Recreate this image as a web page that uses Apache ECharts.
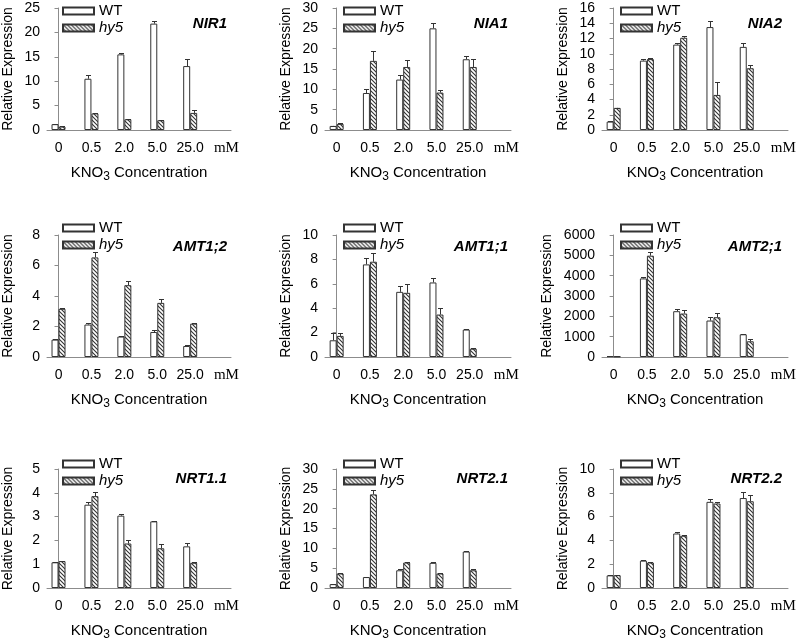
<!DOCTYPE html>
<html><head><meta charset="utf-8">
<script src="https://cdn.jsdelivr.net/npm/echarts@6/dist/echarts.min.js"></script>
<style>html,body{margin:0;padding:0;background:#fff}#c{width:800px;height:642px}</style>
</head><body><div id="c"></div>
<script>
// ---------- data ----------
const concentrations = ['0', '0.5', '2.0', '5.0', '25.0'];
const unitLabel = 'mM';
const seriesNames = ['WT', 'hy5'];
const genes = ['NIR1', 'NIA1', 'NIA2', 'AMT1;2', 'AMT1;1', 'AMT2;1', 'NRT1.1', 'NRT2.1', 'NRT2.2'];

const nir1WT = [1.2, 10.5, 15.5, 21.8, 13.1];
const nir1WTErr = [0.1, 0.7, 0.2, 0.6, 1.5];
const nir1Hy5 = [0.7, 3.4, 2.2, 2.0, 3.5];
const nir1Hy5Err = [0.05, 0.1, 0.1, 0.1, 0.6];

const nia1WT = [1.0, 9.1, 12.4, 25.0, 17.4];
const nia1WTErr = [0.1, 1.0, 1.1, 1.4, 0.9];
const nia1Hy5 = [1.5, 17.0, 15.5, 9.2, 15.5];
const nia1Hy5Err = [0.1, 2.5, 1.6, 0.7, 2.0];

const nia2WT = [1.1, 9.1, 11.2, 13.5, 10.9];
const nia2WTErr = [0.05, 0.2, 0.2, 0.8, 0.45];
const nia2Hy5 = [2.9, 9.3, 12.1, 4.6, 8.1];
const nia2Hy5Err = [0.05, 0.2, 0.25, 1.65, 0.45];

const amt12WT = [1.14, 2.13, 1.34, 1.64, 0.72];
const amt12WTErr = [0.05, 0.08, 0.05, 0.15, 0.08];
const amt12Hy5 = [3.16, 6.53, 4.71, 3.55, 2.19];
const amt12Hy5Err = [0.08, 0.33, 0.25, 0.24, 0.03];

const amt11WT = [1.37, 7.59, 5.34, 6.11, 2.25];
const amt11WTErr = [0.6, 0.5, 0.5, 0.4, 0.06];
const amt11Hy5 = [1.73, 7.81, 5.26, 3.48, 0.68];
const amt11Hy5Err = [0.2, 0.74, 0.7, 0.55, 0.03];

const amt21WT = [40, 3865, 2253, 1793, 1118];
const amt21WTErr = [10, 50, 100, 150, 30];
const amt21Hy5 = [25, 4984, 2138, 1957, 773];
const amt21Hy5Err = [5, 165, 165, 230, 130];

const nrt11WT = [1.08, 3.50, 3.04, 2.80, 1.75];
const nrt11WTErr = [0.02, 0.1, 0.08, 0.03, 0.13];
const nrt11Hy5 = [1.13, 3.86, 1.87, 1.67, 1.06];
const nrt11Hy5Err = [0.02, 0.16, 0.16, 0.19, 0.02];

const nrt21WT = [0.98, 2.76, 4.47, 6.34, 9.19];
const nrt21WTErr = [0.1, 0.1, 0.2, 0.1, 0.1];
const nrt21Hy5 = [3.66, 23.6, 6.42, 3.66, 4.47];
const nrt21Hy5Err = [0.1, 1.0, 0.2, 0.1, 0.2];

const nrt22WT = [1.06, 2.30, 4.58, 7.24, 7.56];
const nrt22WTErr = [0.03, 0.05, 0.13, 0.2, 0.54];
const nrt22Hy5 = [1.08, 2.14, 4.39, 7.10, 7.29];
const nrt22Hy5Err = [0.03, 0.06, 0.08, 0.15, 0.54];

const yMax = [25, 30, 16, 8, 10, 6000, 5, 30, 10];
const yStep = [5, 5, 2, 2, 2, 1000, 1, 5, 2];

const panelData = [
  [nir1WT, nir1WTErr, nir1Hy5, nir1Hy5Err],
  [nia1WT, nia1WTErr, nia1Hy5, nia1Hy5Err],
  [nia2WT, nia2WTErr, nia2Hy5, nia2Hy5Err],
  [amt12WT, amt12WTErr, amt12Hy5, amt12Hy5Err],
  [amt11WT, amt11WTErr, amt11Hy5, amt11Hy5Err],
  [amt21WT, amt21WTErr, amt21Hy5, amt21Hy5Err],
  [nrt11WT, nrt11WTErr, nrt11Hy5, nrt11Hy5Err],
  [nrt21WT, nrt21WTErr, nrt21Hy5, nrt21Hy5Err],
  [nrt22WT, nrt22WTErr, nrt22Hy5, nrt22Hy5Err]
];

// ---------- layout / style ----------
const FONT = '"Liberation Sans", Arial, sans-serif';
const colLeft = [45, 325, 602];
const rowTop = [8, 235, 469];
const plotW = 186, plotH = 122;
const legendLeft = [57, 338, 615];
const legendTop = [-2, 215, 451];
const titleRight = [568, 287, 13];
const titleTop = [11, 234, 466];
const BAR_W = 7;
const EDGE = '#333';
const AXIS = '#8c8c8c';

// hatch pattern
const pc = document.createElement('canvas');
pc.width = 4; pc.height = 4;
const g = pc.getContext('2d');
g.fillStyle = '#fff'; g.fillRect(0, 0, 4, 4);
g.strokeStyle = '#333'; g.lineWidth = 1.1;
g.beginPath();
g.moveTo(-1, -1); g.lineTo(5, 5);
g.moveTo(-1, 3); g.lineTo(1, 5);
g.moveTo(3, -1); g.lineTo(5, 1);
g.stroke();
const hatch = { image: pc, repeat: 'repeat' };

function errRender(offset) {
  return function (params, api) {
    const x = api.value(0), y = api.value(1), e = api.value(2);
    const p0 = api.coord([x, y]);
    const p1 = api.coord([x, y + e]);
    const cx = Math.round(p0[0] + offset) + 0.5;
    const ty = Math.round(p1[1]) + 0.5;
    return {
      type: 'group', children: [
        { type: 'line', shape: { x1: cx, y1: p0[1], x2: cx, y2: ty }, style: { stroke: EDGE, lineWidth: 1 } },
        { type: 'line', shape: { x1: cx - 2.5, y1: ty, x2: cx + 2.5, y2: ty }, style: { stroke: EDGE, lineWidth: 1 } }
      ]
    };
  };
}

const grid = [], xAxis = [], yAxis = [], series = [], legend = [], title = [];
const labelPos = concentrations.map((c, i) => i).concat([5.1]);

genes.forEach((gene, k) => {
  const r = Math.floor(k / 3), c = k % 3;
  grid.push({ left: colLeft[c], top: rowTop[r], width: plotW, height: plotH });
  xAxis.push({
    type: 'value', gridIndex: k, min: -0.35, max: 5.24,
    axisLine: { show: true, onZero: false, lineStyle: { color: AXIS, width: 1 } },
    axisTick: { show: false }, splitLine: { show: false },
    axisLabel: {
      customValues: labelPos, margin: 11, fontSize: 14, fontFamily: FONT, color: '#000',
      formatter: v => (v < 4.5 ? concentrations[Math.round(v)] : '{u|' + unitLabel + '}'),
      rich: { u: { fontFamily: '"Liberation Serif", "Times New Roman", serif', fontSize: 15, color: '#000' } }
    },
    name: 'KNO{s|3} Concentration', nameLocation: 'middle', nameGap: 32,
    nameTextStyle: {
      fontSize: 15, fontFamily: FONT, color: '#000',
      rich: { s: { fontSize: 12, fontFamily: FONT, color: '#000', padding: [9, 0, 0, 0] } }
    }
  });
  yAxis.push({
    type: 'value', gridIndex: k, min: 0, max: yMax[k], interval: yStep[k],
    axisLine: { show: true, lineStyle: { color: AXIS, width: 1 } },
    axisTick: { show: true, inside: false, length: 4, lineStyle: { color: AXIS } },
    splitLine: { show: false },
    axisLabel: { fontSize: 14, fontFamily: FONT, color: '#000', margin: 7, formatter: v => String(v) },
    name: 'Relative Expression', nameLocation: 'middle', nameGap: yMax[k] >= 1000 ? 48 : 32,
    nameTextStyle: { fontSize: 14, fontFamily: FONT, color: '#000' }
  });
  const d = panelData[k];
  const wtData = d[0].map((v, i) => [i, v]);
  const hyData = d[2].map((v, i) => [i, v]);
  series.push({
    name: seriesNames[0], type: 'bar', xAxisIndex: k, yAxisIndex: k, data: wtData,
    barWidth: BAR_W, barGap: '0%',
    itemStyle: { color: '#fff', borderColor: EDGE, borderWidth: 1 }, silent: true
  });
  series.push({
    name: seriesNames[1], type: 'bar', xAxisIndex: k, yAxisIndex: k, data: hyData,
    barWidth: BAR_W, barGap: '0%',
    itemStyle: { color: hatch, borderColor: EDGE, borderWidth: 1 }, silent: true
  });
  series.push({
    name: 'errWT' + k, type: 'custom', xAxisIndex: k, yAxisIndex: k,
    data: d[0].map((v, i) => [i, v, d[1][i]]), renderItem: errRender(-BAR_W / 2), silent: true, z: 3
  });
  series.push({
    name: 'errHy5' + k, type: 'custom', xAxisIndex: k, yAxisIndex: k,
    data: d[2].map((v, i) => [i, v, d[3][i]]), renderItem: errRender(BAR_W / 2), silent: true, z: 3
  });
  legend.push({
    data: seriesNames, orient: 'vertical', left: legendLeft[c], top: legendTop[r],
    itemWidth: 31, itemHeight: 7, itemGap: 1, selectedMode: false, icon: 'rect',
    textStyle: {
      fontSize: 15, fontFamily: FONT, color: '#000', lineHeight: 16,
      rich: { i: { fontStyle: 'italic', fontSize: 15, fontFamily: FONT, color: '#000' } }
    },
    formatter: n => (n === 'hy5' ? '{i|' + n + '}' : n)
  });
  title.push({
    text: gene, right: titleRight[c], top: titleTop[r],
    textStyle: { fontSize: 15, fontWeight: 'bold', fontStyle: 'italic', fontFamily: FONT, color: '#000' }
  });
});

const chart = echarts.init(document.getElementById('c'), null, { renderer: 'canvas' });
chart.setOption({
  animation: false, backgroundColor: '#fff',
  grid, xAxis, yAxis, series, legend, title
});
</script>
</body></html>
